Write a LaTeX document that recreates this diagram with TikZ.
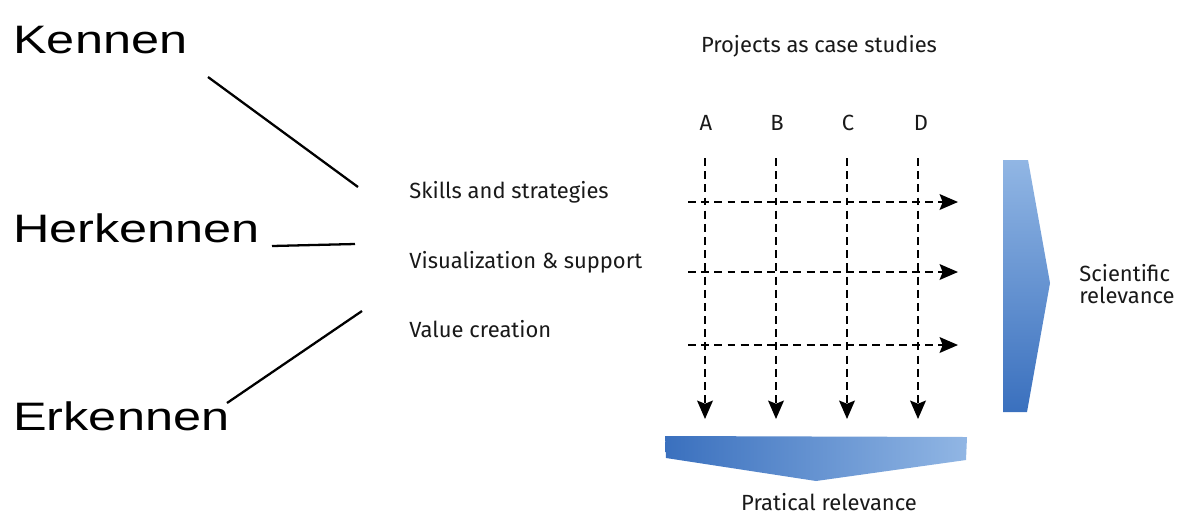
\documentclass[tikz,border=0pt]{standalone}
\usepackage{fontspec}
\setmainfont{Liberation Sans}
\newfontfamily\casefont{Fira Sans}
\usetikzlibrary{arrows.meta}

\definecolor{barDark}{RGB}{58,112,190}
\definecolor{barLight}{RGB}{145,182,228}

\tikzset{
  level/.style={font=\fontsize{22.6}{26}\selectfont, inner sep=0pt},
  caselabel/.style={font=\casefont\fontsize{12.5}{13}\selectfont, inner sep=0pt, text=black!90},
  gridarrow/.style={line width=0.85pt, dash pattern=on 4.5pt off 3pt,
    -{Stealth[length=10.5pt,width=9pt,inset=1.8pt]}},
  levelline/.style={line width=1.3pt},
}

\begin{document}
\begin{tikzpicture}[x=0.02cm,y=-0.02cm]
    \useasboundingbox (0,0) rectangle (1189,515);
    % Niveaus links
    \node[level, anchor=base west] (kennen) at (13,53) {\scalebox{1.27}[1]{Kennen}};
    \node[level, anchor=base west] (herkennen) at (13,242) {\scalebox{1.27}[1]{Herkennen}};
    \node[level, anchor=base west] (erkennen) at (13,430) {\scalebox{1.27}[1]{Erkennen}};
    % Thema's
    \node[caselabel, anchor=base west] (skills) at (409,198) {Skills and strategies};
    \node[caselabel, anchor=base west] (visual) at (409,268) {Visualization \& support};
    \node[caselabel, anchor=base west] (value) at (409,337) {Value creation};
    % Lijnen tussen niveaus en thema's
    \coordinate (kennenEnd) at (208,77);
    \coordinate (skillsEnd) at (358,187);
    \coordinate (herkennenEnd) at (272,246);
    \coordinate (visualEnd) at (355,244);
    \coordinate (erkennenEnd) at (227,403);
    \coordinate (valueEnd) at (362,311);
    \draw[levelline] (kennenEnd) -- (skillsEnd);
    \draw[levelline] (herkennenEnd) -- (visualEnd);
    \draw[levelline] (erkennenEnd) -- (valueEnd);
    % Projecten
    \node[caselabel, anchor=base] (projects) at (819,52) {Projects as case studies};
    \node[caselabel, anchor=base] (colA) at (706,130) {A};
    \node[caselabel, anchor=base] (colB) at (777,130) {B};
    \node[caselabel, anchor=base] (colC) at (848,130) {C};
    \node[caselabel, anchor=base] (colD) at (921,130) {D};
    % Raster van gestippelde pijlen
    \coordinate (topA) at (705,158); \coordinate (botA) at (705,419);
    \coordinate (topB) at (776,158); \coordinate (botB) at (776,419);
    \coordinate (topC) at (847,158); \coordinate (botC) at (847,419);
    \coordinate (topD) at (918,158); \coordinate (botD) at (918,419);
    \draw[gridarrow] (topA) -- (botA);
    \draw[gridarrow] (topB) -- (botB);
    \draw[gridarrow] (topC) -- (botC);
    \draw[gridarrow] (topD) -- (botD);
    \coordinate (rowOneL) at (688,202); \coordinate (rowOneR) at (958,202);
    \coordinate (rowTwoL) at (688,272); \coordinate (rowTwoR) at (958,272);
    \coordinate (rowThreeL) at (688,345); \coordinate (rowThreeR) at (958,345);
    \draw[gridarrow] (rowOneL) -- (rowOneR);
    \draw[gridarrow] (rowTwoL) -- (rowTwoR);
    \draw[gridarrow] (rowThreeL) -- (rowThreeR);
    % Relevantie-pijlen
    \shade[left color=barDark, right color=barLight]
      (665,436) -- (967,437) -- (966,460) -- (816,481) -- (666,458) -- cycle;
    \shade[top color=barLight, bottom color=barDark]
      (1003,160) -- (1028,160) -- (1050,283) -- (1027,412) -- (1003,412) -- cycle;
    \node[caselabel, anchor=base] (practical) at (829,510) {Pratical relevance};
    \node[caselabel, anchor=west, align=left] (scientific) at (1079,284) {Scientific\\relevance};
\end{tikzpicture}
\end{document}
